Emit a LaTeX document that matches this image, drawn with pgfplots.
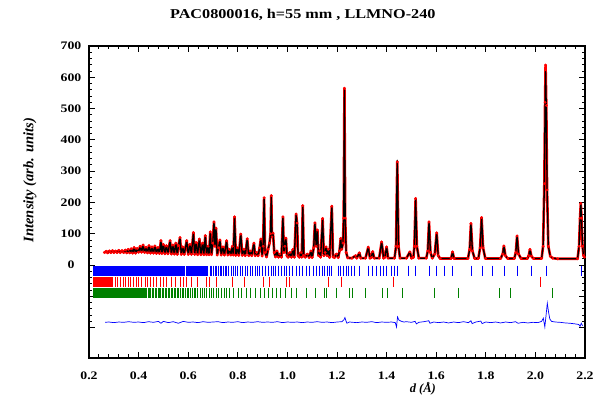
\documentclass[border=0pt]{standalone}
\usepackage{fontspec}
\setmainfont{Liberation Serif}
\newfontfamily\widefont{Liberation Serif}[FakeStretch=1.2]
\usepackage{pgfplots}
\usepackage{pgfplotstable}
\pgfplotsset{compat=1.18}
\definecolor{dkgreen}{RGB}{0,128,0}

% observed and calculated profile
\pgfplotstableread[row sep=\\]{
d obs calc\\
0.262 40 40\\ 0.270 44 44\\ 0.275 39 39\\ 0.282 45 45\\ 0.288 40 40\\ 0.295 46 46\\
0.300 40 40\\ 0.307 45 45\\ 0.313 40 40\\ 0.320 47 47\\ 0.326 40 40\\ 0.333 46 46\\
0.340 40 40\\ 0.346 48 48\\ 0.352 39 39\\ 0.358 50 50\\ 0.364 39 39\\ 0.370 52 52\\
0.376 38 38\\ 0.382 56 56\\ 0.388 38 38\\ 0.394 53 53\\ 0.400 41 41\\ 0.406 60 60\\
0.412 41 41\\ 0.418 64 64\\ 0.424 40 40\\ 0.430 57 57\\ 0.436 39 39\\ 0.442 62 62\\
0.448 38 38\\ 0.454 58 58\\ 0.460 38 38\\ 0.466 61 61\\ 0.472 37 37\\ 0.478 56 56\\
0.484 37 37\\ 0.490 78 78\\ 0.494 37 37\\ 0.500 66 66\\ 0.506 36 36\\ 0.512 62 62\\
0.518 36 36\\ 0.527 78 78\\ 0.532 35 35\\ 0.538 64 64\\ 0.544 35 35\\ 0.550 70 70\\
0.556 34 34\\ 0.561 62 62\\ 0.567 88 88\\ 0.572 34 34\\ 0.578 58 58\\ 0.584 34 34\\
0.594 78 78\\ 0.600 34 34\\ 0.607 66 66\\ 0.613 34 34\\ 0.621 104 104\\ 0.626 34 34\\
0.632 72 72\\ 0.638 33 33\\ 0.645 83 83\\ 0.651 33 33\\ 0.658 70 70\\ 0.663 33 33\\
0.669 94 94\\ 0.674 33 33\\ 0.680 60 60\\ 0.684 33 33\\ 0.689 106 106\\ 0.694 33 33\\
0.699 70 70\\ 0.704 138 138\\ 0.708 60 60\\ 0.712 118 118\\ 0.717 32 32\\ 0.722 55 55\\
0.728 80 80\\ 0.733 32 32\\ 0.740 58 58\\ 0.746 32 32\\ 0.755 78 78\\ 0.760 32 32\\
0.766 50 50\\ 0.772 32 32\\ 0.778 60 60\\ 0.782 32 32\\ 0.787 154 154\\ 0.792 31 31\\
0.798 55 55\\ 0.804 31 31\\ 0.812 99 99\\ 0.818 31 31\\ 0.825 50 50\\ 0.830 30 30\\
0.838 84 84\\ 0.844 30 30\\ 0.850 45 45\\ 0.856 30 30\\ 0.865 70 70\\ 0.870 30 30\\
0.876 40 40\\ 0.882 30 30\\ 0.888 55 55\\ 0.893 83 83\\ 0.898 29 29\\ 0.902 60 60\\
0.906 215 213\\ 0.910 40 40\\ 0.916 26 26\\ 0.922 50 50\\ 0.928 70 70\\ 0.932 100 100\\
0.935 222 218\\ 0.938 90 90\\ 0.942 102 102\\ 0.947 40 40\\ 0.952 26 26\\ 0.958 45 45\\
0.964 25 25\\ 0.970 35 35\\ 0.976 25 25\\ 0.982 154 154\\ 0.986 40 40\\ 0.990 60 60\\
0.994 86 86\\ 0.998 30 30\\ 1.003 25 25\\ 1.010 40 40\\ 1.016 25 25\\ 1.022 50 50\\
1.028 25 25\\ 1.035 163 163\\ 1.039 134 134\\ 1.043 30 30\\ 1.048 25 25\\ 1.055 40 40\\
1.058 25 25\\ 1.062 190 190\\ 1.066 30 30\\ 1.072 25 25\\ 1.080 35 35\\ 1.088 24 24\\
1.095 45 45\\ 1.100 24 24\\ 1.106 55 55\\ 1.111 135 135\\ 1.116 60 60\\ 1.121 112 112\\
1.125 30 30\\ 1.130 45 45\\ 1.134 25 25\\ 1.142 149 149\\ 1.147 30 30\\ 1.152 40 40\\
1.156 58 58\\ 1.160 30 30\\ 1.165 50 50\\ 1.170 24 24\\ 1.179 188 188\\ 1.184 26 26\\
1.190 24 24\\ 1.198 35 35\\ 1.205 24 24\\ 1.210 45 45\\ 1.215 85 85\\ 1.219 50 50\\
1.224 70 70\\ 1.227 150 150\\ 1.230 565 560\\ 1.233 150 150\\ 1.237 40 40\\ 1.243 23 23\\
1.260 22 22\\ 1.275 30 30\\ 1.280 22 22\\ 1.290 39 39\\ 1.296 22 22\\ 1.315 22 22\\
1.326 57 57\\ 1.333 22 22\\ 1.338 24 24\\ 1.344 43 43\\ 1.350 22 22\\ 1.370 22 22\\
1.380 74 74\\ 1.388 22 22\\ 1.393 25 25\\ 1.400 58 58\\ 1.406 22 22\\ 1.432 22 22\\
1.438 60 60\\ 1.443 330 335\\ 1.448 60 60\\ 1.454 22 22\\ 1.480 22 22\\ 1.494 42 42\\
1.500 22 22\\ 1.508 24 24\\ 1.512 60 60\\ 1.517 213 213\\ 1.522 60 60\\ 1.530 22 22\\
1.560 22 22\\ 1.566 45 45\\ 1.571 138 138\\ 1.577 40 40\\ 1.584 22 22\\ 1.594 35 35\\
1.602 103 103\\ 1.608 30 30\\ 1.616 21 21\\ 1.660 21 21\\ 1.666 42 42\\ 1.672 21 21\\
1.728 21 21\\ 1.735 50 50\\ 1.740 133 133\\ 1.746 45 45\\ 1.755 21 21\\ 1.770 21 21\\
1.777 55 55\\ 1.783 152 152\\ 1.789 55 55\\ 1.798 21 21\\ 1.860 21 21\\ 1.868 35 35\\
1.873 61 61\\ 1.879 30 30\\ 1.888 21 21\\ 1.915 21 21\\ 1.921 40 40\\ 1.926 93 93\\
1.932 35 35\\ 1.942 21 21\\ 1.968 21 21\\ 1.973 30 30\\ 1.978 50 50\\ 1.984 28 28\\
1.992 21 21\\ 2.025 21 21\\ 2.031 60 60\\ 2.036 260 250\\ 2.039 520 500\\ 2.041 639 618\\
2.044 510 500\\ 2.047 240 250\\ 2.052 60 60\\ 2.060 28 28\\ 2.070 22 22\\ 2.090 20 20\\
2.170 20 20\\ 2.176 60 60\\ 2.180 150 150\\ 2.183 197 197\\ 2.186 150 150\\ 2.190 60 60\\
2.194 30 30\\ 2.198 25 25\\
}\profile

\begin{document}
\begin{tikzpicture}
\begin{axis}[
  name=main,
  width=496pt, height=312pt, scale only axis,
  xmin=0.2, xmax=2.2, ymin=-297, ymax=700,
  xtick={0.2,0.4,0.6,0.8,1.0,1.2,1.4,1.6,1.8,2.0,2.2},
  xticklabels={0.2,0.4,0.6,0.8,1.0,1.2,1.4,1.6,1.8,2.0,2.2},
  ytick={-200,-100,0,100,200,300,400,500,600,700},
  yticklabels={,,0,100,200,300,400,500,600,700},
  minor x tick num=4, minor y tick num=4,
  major tick length=6pt, minor tick length=3.5pt,
  tick style={black, line width=1pt},
  axis line style={line width=1.2pt},
  xticklabel style={font=\widefont\bfseries\fontsize{11.5}{13}\selectfont, yshift=-10.5pt},
  yticklabel style={font=\widefont\bfseries\fontsize{11.5}{13}\selectfont, anchor=center, xshift=-18pt},
  title={PAC0800016, h=55 mm , LLMNO-240},
  title style={font=\widefont\bfseries\fontsize{13.5}{16}\selectfont, at={(0.431,1)}, anchor=base, yshift=21pt},
  xlabel={d (Å)},
  xlabel style={font=\bfseries\itshape\fontsize{12.5}{14}\selectfont, at={(axis description cs:0.673,-0.099)}, anchor=center},
  ylabel={Intensity (arb. units)},
  ylabel style={font=\bfseries\itshape\fontsize{14.5}{16}\selectfont, at={(axis description cs:-0.119,0.57)}, anchor=center},
]
% reflection markers: dense parts as bands
\addplot[fill=blue, draw=none] coordinates {(0.217,-2)(0.587,-2)(0.587,-34)(0.217,-34)} -- cycle;
\addplot[fill=blue, draw=none] coordinates {(0.592,-2)(0.681,-2)(0.681,-34)(0.592,-34)} -- cycle;
\addplot[fill=red, draw=none] coordinates {(0.217,-37)(0.298,-37)(0.298,-70)(0.217,-70)} -- cycle;
\addplot[fill=dkgreen, draw=none] coordinates {(0.217,-72)(0.433,-72)(0.433,-106)(0.217,-106)} -- cycle;

\addplot[blue, only marks, mark=|, mark size=5pt, mark options={line width=0.8pt}] coordinates {
(0.688,-18)(0.695,-18)(0.701,-18)(0.708,-18)(0.715,-18)(0.722,-18)(0.728,-18)(0.735,-18)
(0.742,-18)(0.748,-18)(0.755,-18)(0.764,-18)(0.773,-18)(0.782,-18)(0.791,-18)(0.799,-18)
(0.809,-18)(0.818,-18)(0.829,-18)(0.838,-18)(0.849,-18)(0.859,-18)(0.869,-18)(0.880,-18)
(0.889,-18)(0.899,-18)(0.910,-18)(0.923,-18)(0.934,-18)(0.943,-18)(0.953,-18)(0.963,-18)
(0.977,-18)(0.988,-18)(0.997,-18)(1.008,-18)(1.021,-18)(1.035,-18)(1.048,-18)(1.062,-18)
(1.075,-18)(1.088,-18)(1.105,-18)(1.115,-18)(1.131,-18)(1.140,-18)(1.150,-18)(1.160,-18)
(1.170,-18)(1.178,-18)(1.205,-18)(1.215,-18)(1.225,-18)(1.236,-18)(1.247,-18)(1.259,-18)
(1.270,-18)(1.290,-18)(1.326,-18)(1.342,-18)(1.360,-18)(1.373,-18)(1.387,-18)(1.400,-18)
(1.418,-18)(1.430,-18)(1.443,-18)(1.489,-18)(1.515,-18)(1.571,-18)(1.602,-18)(1.633,-18)
(1.666,-18)(1.743,-18)(1.785,-18)(1.826,-18)(1.873,-18)(1.927,-18)(1.982,-18)(2.043,-18)
(2.185,-18)};

\addplot[red, only marks, mark=|, mark size=5pt, mark options={line width=0.8pt}] coordinates {
(0.305,-53)(0.314,-53)(0.325,-53)(0.339,-53)(0.348,-53)(0.359,-53)(0.368,-53)(0.379,-53)
(0.390,-53)(0.399,-53)(0.412,-53)(0.426,-53)(0.435,-53)(0.446,-53)(0.459,-53)(0.473,-53)
(0.486,-53)(0.500,-53)(0.513,-53)(0.533,-53)(0.547,-53)(0.567,-53)(0.580,-53)(0.594,-53)
(0.614,-53)(0.636,-53)(0.675,-53)(0.684,-53)(0.715,-53)(0.778,-53)(0.826,-53)(0.904,-53)
(0.927,-53)(0.997,-53)(1.010,-53)(1.166,-53)(1.219,-53)(1.429,-53)(2.020,-53)};

\addplot[dkgreen, only marks, mark=|, mark size=5pt, mark options={line width=0.8pt}] coordinates {
(0.438,-89)(0.444,-89)(0.449,-89)(0.455,-89)(0.461,-89)(0.466,-89)(0.472,-89)(0.478,-89)
(0.484,-89)(0.489,-89)(0.495,-89)(0.501,-89)(0.507,-89)(0.513,-89)(0.519,-89)(0.525,-89)
(0.531,-89)(0.537,-89)(0.543,-89)(0.549,-89)(0.556,-89)(0.562,-89)(0.568,-89)(0.575,-89)
(0.581,-89)(0.588,-89)(0.595,-89)(0.602,-89)(0.609,-89)(0.616,-89)(0.623,-89)(0.630,-89)
(0.639,-89)(0.648,-89)(0.657,-89)(0.666,-89)(0.675,-89)(0.684,-89)(0.693,-89)(0.703,-89)
(0.713,-89)(0.723,-89)(0.733,-89)(0.744,-89)(0.755,-89)(0.766,-89)(0.782,-89)(0.802,-89)
(0.816,-89)(0.833,-89)(0.852,-89)(0.872,-89)(0.890,-89)(0.906,-89)(0.923,-89)(0.939,-89)
(0.954,-89)(0.970,-89)(0.990,-89)(1.017,-89)(1.037,-89)(1.078,-89)(1.111,-89)(1.149,-89)
(1.158,-89)(1.199,-89)(1.250,-89)(1.263,-89)(1.313,-89)(1.383,-89)(1.403,-89)(1.465,-89)
(1.592,-89)(1.690,-89)(1.853,-89)(1.900,-89)(2.070,-89)};

% difference curve (offset)
\addplot[blue, line width=0.7pt] coordinates {
(0.265,-183)(0.28,-182)(0.30,-184)(0.32,-182)(0.34,-183)(0.36,-181)(0.38,-183)(0.40,-182)
(0.42,-184)(0.44,-181)(0.46,-183)(0.48,-180)(0.49,-186)(0.50,-180)(0.52,-184)(0.54,-181)
(0.56,-186)(0.58,-180)(0.60,-183)(0.62,-182)(0.64,-184)(0.66,-181)(0.68,-183)(0.70,-182)
(0.72,-181)(0.74,-184)(0.76,-182)(0.78,-183)(0.80,-181)(0.82,-184)(0.84,-182)(0.86,-183)
(0.88,-181)(0.90,-183)(0.92,-182)(0.94,-183)(0.96,-181)(0.98,-184)(1.00,-182)(1.02,-183)
(1.04,-182)(1.06,-184)(1.08,-182)(1.10,-183)(1.12,-181)(1.14,-183)(1.16,-182)(1.18,-184)
(1.20,-182)(1.22,-181)(1.228,-175)(1.232,-168)(1.236,-178)(1.24,-186)(1.25,-182)(1.28,-184)
(1.30,-182)(1.32,-183)(1.34,-181)(1.36,-184)(1.38,-182)(1.40,-183)(1.42,-182)(1.435,-184)
(1.440,-198)(1.444,-166)(1.45,-176)(1.46,-180)(1.47,-182)(1.48,-181)(1.50,-183)(1.515,-180)
(1.52,-188)(1.53,-183)(1.55,-181)(1.57,-178)(1.575,-186)(1.59,-182)(1.61,-184)(1.63,-182)
(1.65,-185)(1.67,-182)(1.69,-184)(1.71,-181)(1.73,-184)(1.74,-178)(1.745,-187)(1.76,-182)
(1.78,-179)(1.785,-187)(1.80,-182)(1.82,-184)(1.84,-182)(1.86,-185)(1.88,-182)(1.90,-184)
(1.92,-181)(1.93,-186)(1.95,-183)(1.97,-185)(1.99,-183)(2.01,-184)(2.025,-180)(2.032,-170)
(2.038,-198)(2.043,-160)(2.048,-122)(2.053,-150)(2.058,-172)(2.065,-180)(2.08,-182)(2.10,-183)
(2.12,-185)(2.14,-186)(2.16,-188)(2.175,-190)(2.18,-196)(2.185,-186)(2.19,-194)};

% observed (red) and calculated (black)
\addplot[red, line width=2.6pt, line join=round] table[x=d, y=obs] {\profile};
\addplot[red, only marks, mark=*, mark size=1.2pt] table[x=d, y=obs] {\profile};
\addplot[black, line width=1.3pt, line join=round] table[x=d, y=calc] {\profile};
\end{axis}
\pgfresetboundingbox
\path[use as bounding box] (main.south west) ++(-89pt,-45pt) rectangle ++(615pt,403pt);
\end{tikzpicture}
\end{document}
